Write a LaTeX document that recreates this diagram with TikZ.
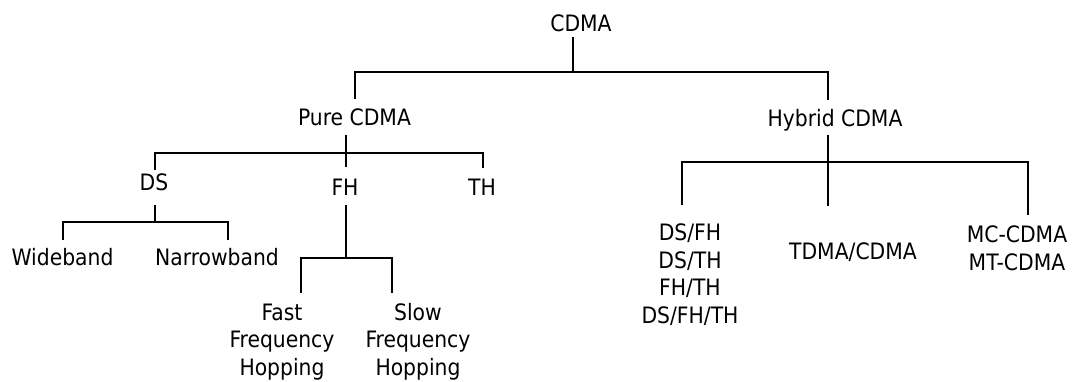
\documentclass[tikz,border=0pt]{standalone}
\usepackage{fontspec}
\setmainfont{DejaVu Sans Condensed}
\begin{document}
\begin{tikzpicture}[x=1pt,y=-1pt,
  lbl/.style={anchor=base,inner sep=0pt,align=center,font=\fontsize{22.6}{27.5}\selectfont},
  edge/.style={draw=black,line width=1.3pt}]
\useasboundingbox (0,0) rectangle (1078,381);
% nodes (multi-line nodes are placed by the baseline of their last line)
\node[lbl] (cdma) at (581,31) {CDMA};
\node[lbl] (pure) at (354.5,125) {Pure CDMA};
\node[lbl] (hyb) at (835,126) {Hybrid CDMA};
\node[lbl] (ds) at (154,190) {DS};
\node[lbl] (fh) at (345,195) {FH};
\node[lbl] (th) at (482,195) {TH};
\node[lbl] (wb) at (62.5,265) {Wideband};
\node[lbl] (nb) at (217,265) {Narrowband};
\node[lbl] (ffh) at (282,375) {Fast\\Frequency\\Hopping};
\node[lbl] (sfh) at (418,375) {Slow\\Frequency\\Hopping};
\node[lbl] (h1) at (690,323) {DS/FH\\DS/TH\\FH/TH\\DS/FH/TH};
\node[lbl] (h2) at (853,259) {TDMA/CDMA};
\node[lbl] (h3) at (1017,270) {MC-CDMA\\MT-CDMA};
% junction coordinates
\coordinate (c0) at (573,37);  \coordinate (c1) at (573,72);
\coordinate (pt) at (355,99);  \coordinate (ht) at (828,100);
\coordinate (p0) at (346,135); \coordinate (p1) at (346,167);
\coordinate (dst) at (155,170); \coordinate (tht) at (483,168);
\coordinate (d0) at (155,205); \coordinate (d1) at (155,222);
\coordinate (wbt) at (63,240); \coordinate (nbt) at (228,240);
\coordinate (f0) at (346,205); \coordinate (f1) at (346,258);
\coordinate (fft) at (301,293); \coordinate (sft) at (392,293);
\coordinate (y0) at (828,135); \coordinate (y1) at (828,206);
\coordinate (h1t) at (682,205); \coordinate (h3t) at (1028,215);
% connectors
\draw[edge] (c0) -- (c1);
\draw[edge] (pt) |- (c1) -| (ht);
\draw[edge] (p0) -- (p1);
\draw[edge] (dst) |- (346,153) -| (tht);
\draw[edge] (d0) -- (d1);
\draw[edge] (wbt) |- (d1) -| (nbt);
\draw[edge] (f0) -- (f1);
\draw[edge] (fft) |- (f1) -| (sft);
\draw[edge] (y0) -- (y1);
\draw[edge] (h1t) |- (828,162) -| (h3t);
\end{tikzpicture}
\end{document}
